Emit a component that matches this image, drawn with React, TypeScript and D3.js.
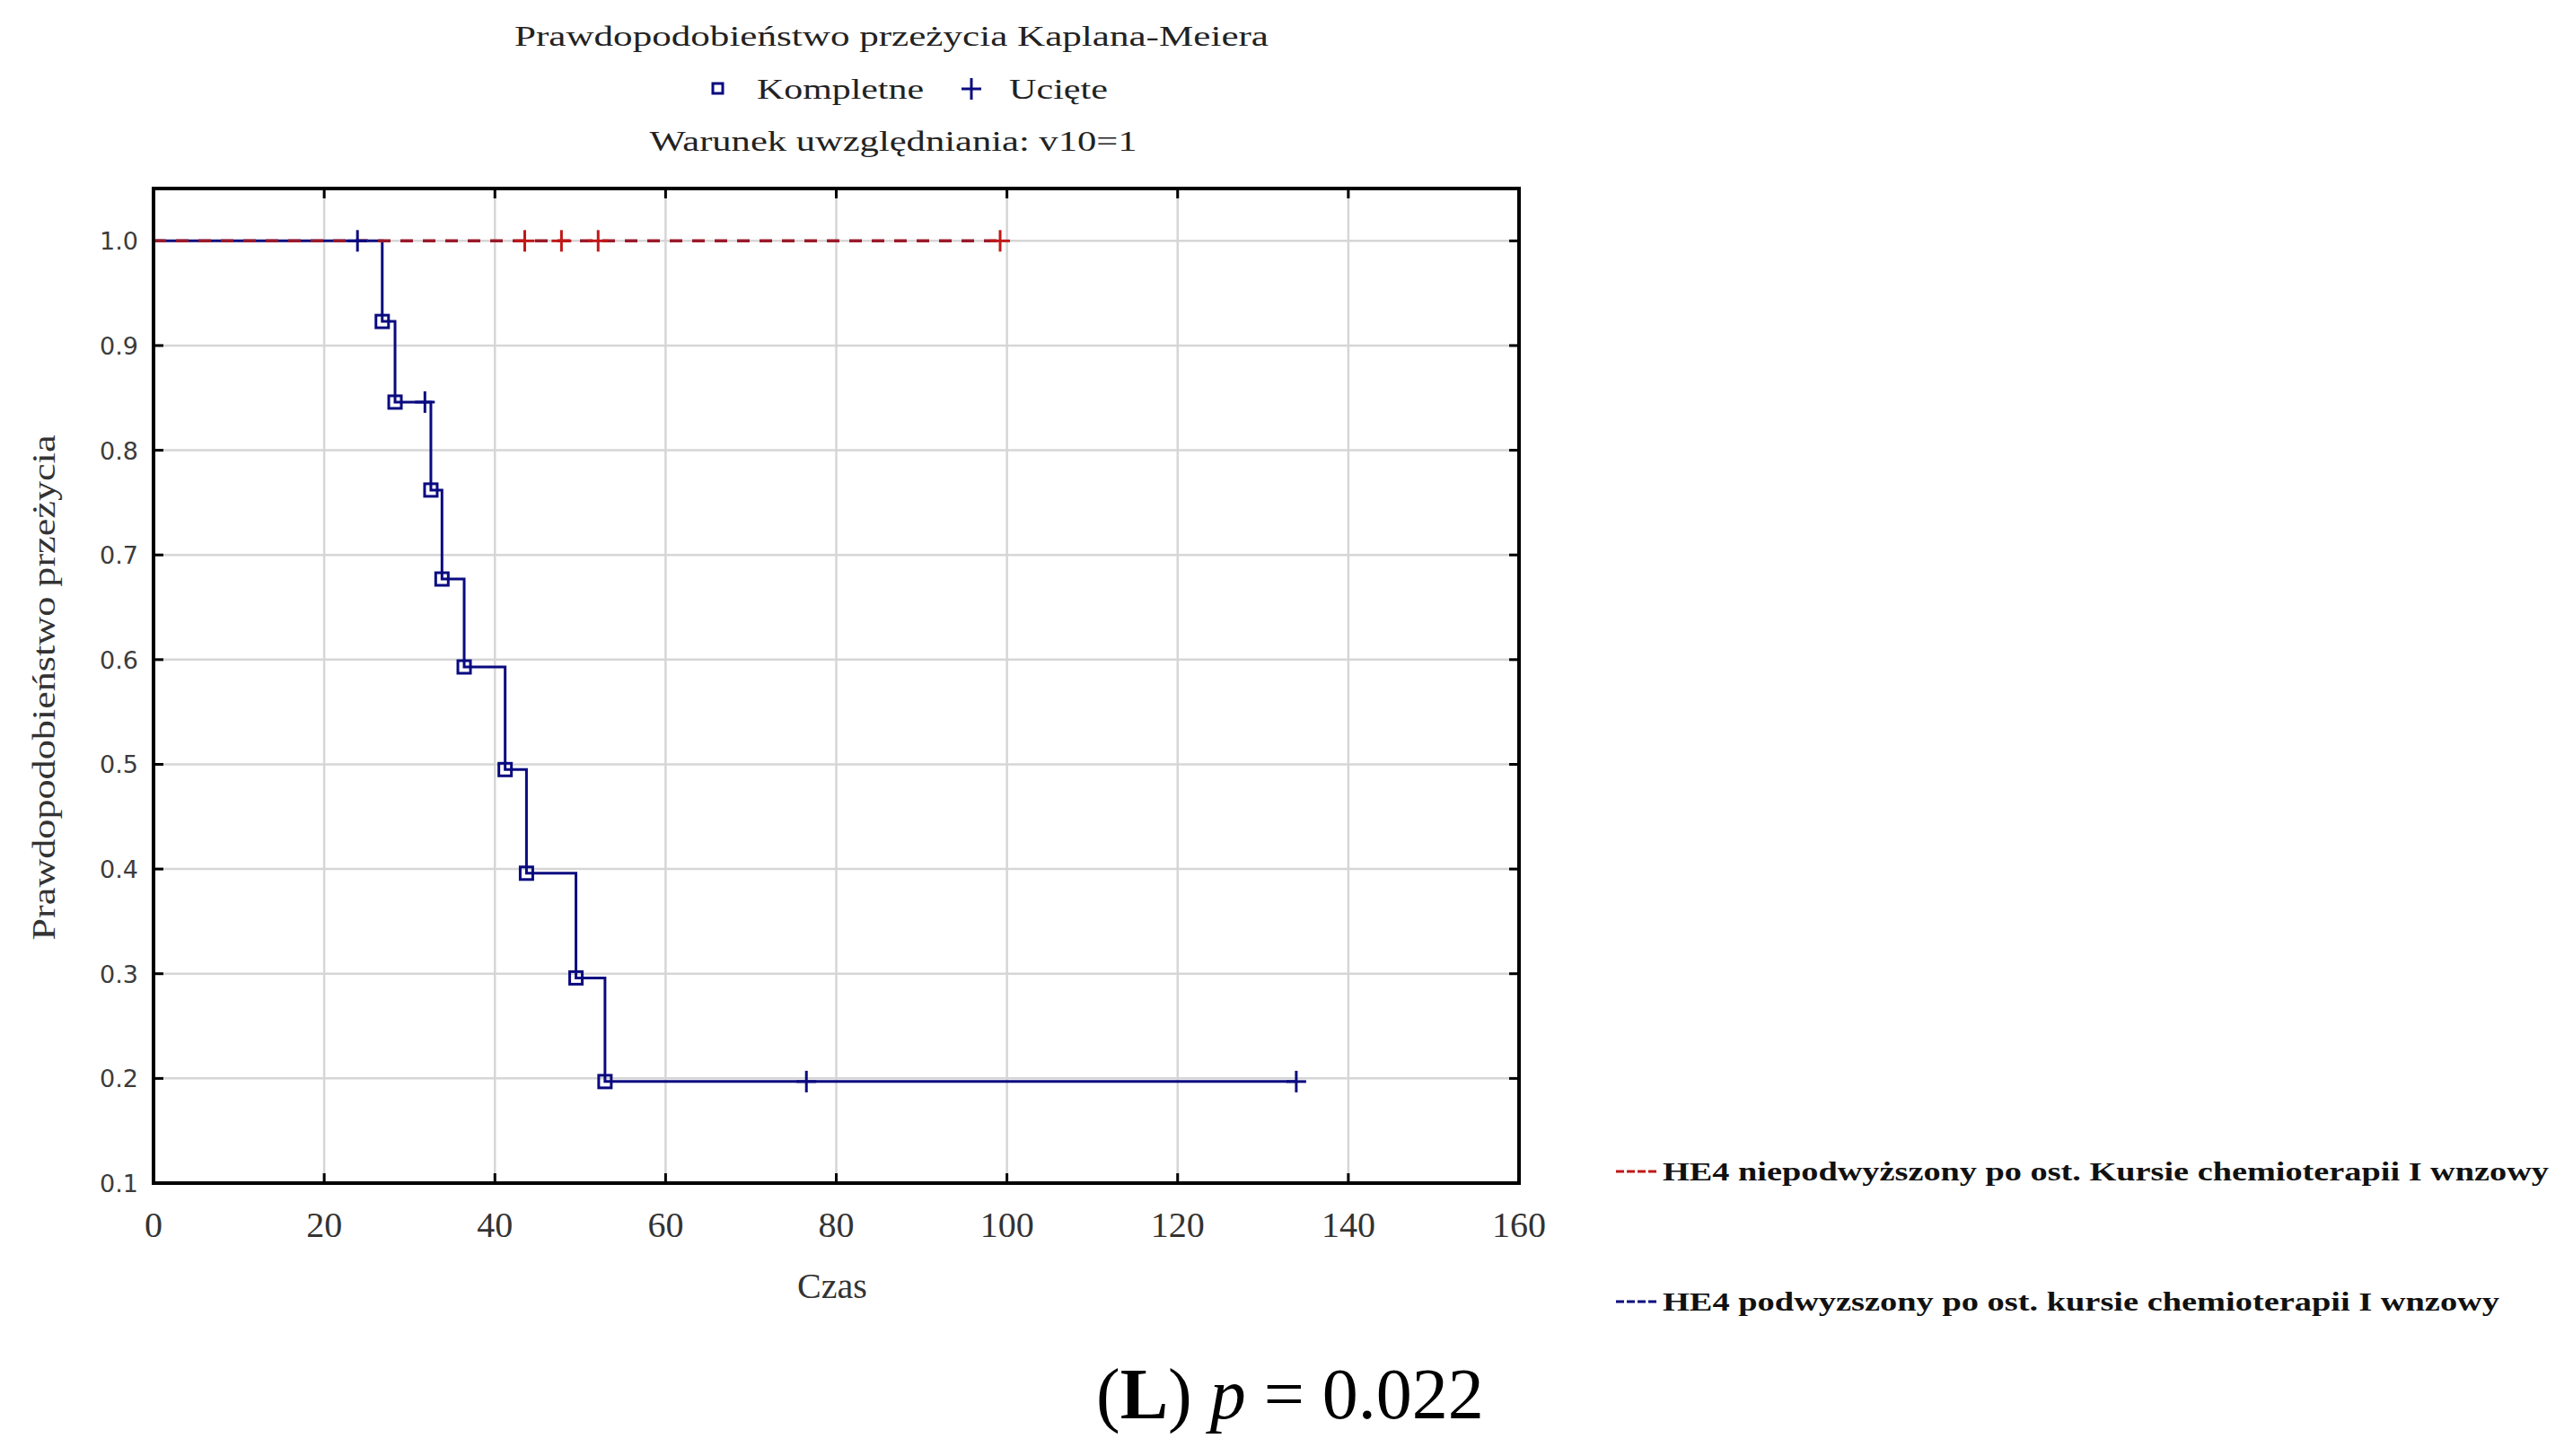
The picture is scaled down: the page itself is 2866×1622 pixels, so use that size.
import React from "react";
import * as d3 from "d3";

// ---- data ----
const xTicks = [0, 20, 40, 60, 80, 100, 120, 140, 160];
const yTicks = [0.1, 0.2, 0.3, 0.4, 0.5, 0.6, 0.7, 0.8, 0.9, 1.0];

// HE4 podwyzszony (blue): event times and survival after each event
const blueEventTimes = [26.8, 28.3, 32.5, 33.8, 36.4, 41.2, 43.7, 49.5, 52.9];
const blueEventSurv = [0.923, 0.846, 0.762, 0.677, 0.593, 0.495, 0.396, 0.296, 0.197];
const blueCensorTimes = [23.9, 31.8, 76.5, 133.9];
const blueEnd = 133.9;

// HE4 niepodwyższony (red): no events, censored only
const redCensorTimes = [43.5, 47.8, 52.1, 99.2];
const redEnd = 99.2;

const titleText = "Prawdopodobieństwo przeżycia Kaplana-Meiera";
const subText = "Warunek uwzględniania: v10=1";
const yLabel = "Prawdopodobieństwo przeżycia";
const xLabel = "Czas";
const legendRed = "HE4 niepodwyższony po ost. Kursie chemioterapii I wnzowy";
const legendBlue = "HE4 podwyzszony po ost. kursie chemioterapii I wnzowy";

const BLUE = "#0a0a80";
const RED = "#c01818";
const RED_DASH = "#9a1a2a";

export default function App() {
  const W = 2866, H = 1622;
  const L = 171, R = 1692, T = 210, B = 1318;
  const x = d3.scaleLinear().domain([0, 160]).range([L, R]);
  const y = d3.scaleLinear().domain([0.1, 1.05]).range([B, T]);

  const bluePts: [number, number][] = [[0, 1]];
  blueEventTimes.forEach((t, i) => bluePts.push([t, blueEventSurv[i]]));
  bluePts.push([blueEnd, blueEventSurv[blueEventSurv.length - 1]]);
  const stepLine = d3
    .line<[number, number]>()
    .x((d) => x(d[0]))
    .y((d) => y(d[1]))
    .curve(d3.curveStepAfter);

  const survAt = (t: number) => {
    let s = 1;
    blueEventTimes.forEach((et, i) => {
      if (et <= t) s = blueEventSurv[i];
    });
    return s;
  };

  const redPts: [number, number][] = [[0, 1], [redEnd, 1]];
  const tickLen = 11;
  const serif = "'Liberation Serif', 'DejaVu Serif', serif";

  const plus = (cx: number, cy: number, color: string, key: string) => (
    <g key={key} stroke={color} strokeWidth={3}>
      <line x1={cx} x2={cx} y1={cy - 12} y2={cy + 12} />
      <line x1={cx - 11} x2={cx + 11} y1={cy} y2={cy} />
    </g>
  );

  return (
    <svg
      width={W}
      height={H}
      style={{ position: "absolute", left: 0, top: 0, background: "#fff" }}
    >
      <rect x={0} y={0} width={W} height={H} fill="#fff" />
      {/* titles */}
      <text x={993} y={51} textAnchor="middle" fontFamily={serif} fontSize={31} fill="#222"
        textLength={840} lengthAdjust="spacingAndGlyphs">{titleText}</text>
      <rect x={794} y={93} width={11} height={11} fill="none" stroke={BLUE} strokeWidth={3} />
      <text x={843} y={110} fontFamily={serif} fontSize={31} fill="#222"
        textLength={186} lengthAdjust="spacingAndGlyphs">Kompletne</text>
      {plus(1082, 99, BLUE, "lp")}
      <text x={1124} y={110} fontFamily={serif} fontSize={31} fill="#222"
        textLength={110} lengthAdjust="spacingAndGlyphs">Ucięte</text>
      <text x={995} y={168} textAnchor="middle" fontFamily={serif} fontSize={31} fill="#222"
        textLength={543} lengthAdjust="spacingAndGlyphs">{subText}</text>

      {/* grid */}
      <g stroke="#d6d6d6" strokeWidth={2.5}>
        {xTicks.slice(1, -1).map((t) => (
          <line key={"gx" + t} x1={x(t)} x2={x(t)} y1={T} y2={B} />
        ))}
        {yTicks.slice(1).map((v) => (
          <line key={"gy" + v} x1={L} x2={R} y1={y(v)} y2={y(v)} />
        ))}
      </g>
      {/* inward ticks */}
      <g stroke="#000" strokeWidth={3}>
        {xTicks.slice(1, -1).map((t) => (
          <g key={"tx" + t}>
            <line x1={x(t)} x2={x(t)} y1={B} y2={B - tickLen} />
            <line x1={x(t)} x2={x(t)} y1={T} y2={T + tickLen} />
          </g>
        ))}
        {yTicks.slice(1).map((v) => (
          <g key={"ty" + v}>
            <line x1={L} x2={L + tickLen} y1={y(v)} y2={y(v)} />
            <line x1={R} x2={R - tickLen} y1={y(v)} y2={y(v)} />
          </g>
        ))}
      </g>

      {/* curves */}
      <path d={stepLine(bluePts) || ""} fill="none" stroke={BLUE} strokeWidth={3} />
      <path d={stepLine(redPts) || ""} fill="none" stroke={RED_DASH} strokeWidth={3.5}
        strokeDasharray="14 11" />
      {blueEventTimes.map((t, i) => (
        <rect key={"m" + i} x={x(t) - 7} y={y(blueEventSurv[i]) - 7} width={14} height={14}
          fill="none" stroke={BLUE} strokeWidth={3} />
      ))}
      {blueCensorTimes.map((t, i) => plus(x(t), y(survAt(t)), BLUE, "bc" + i))}
      {redCensorTimes.map((t, i) => plus(x(t), y(1), RED, "rc" + i))}

      {/* frame */}
      <rect x={L} y={T} width={R - L} height={B - T} fill="none" stroke="#000" strokeWidth={4} />

      {/* tick labels */}
      {yTicks.map((v) => (
        <text key={"yl" + v} x={154} y={y(v) + 10} textAnchor="end"
          fontFamily="'DejaVu Sans', sans-serif" fontSize={27} fill="#3c3c3c">
          {v.toFixed(1)}
        </text>
      ))}
      {xTicks.map((t) => (
        <text key={"xl" + t} x={x(t)} y={1378} textAnchor="middle" fontFamily={serif}
          fontSize={40} fill="#333">
          {t}
        </text>
      ))}
      <text x={927} y={1446} textAnchor="middle" fontFamily={serif} fontSize={40} fill="#333">
        {xLabel}
      </text>
      <text transform="translate(61,766) rotate(-90)" textAnchor="middle" fontFamily={serif}
        fontSize={36} fill="#333" textLength={563} lengthAdjust="spacingAndGlyphs">
        {yLabel}
      </text>

      {/* right legend */}
      <line x1={1800} x2={1846} y1={1305} y2={1305} stroke={RED} strokeWidth={3} strokeDasharray="9 3" />
      <text x={1852} y={1315} fontFamily={serif} fontWeight="bold" fontSize={30} fill="#111"
        textLength={987} lengthAdjust="spacingAndGlyphs">{legendRed}</text>
      <line x1={1800} x2={1846} y1={1450} y2={1450} stroke={BLUE} strokeWidth={3} strokeDasharray="9 3" />
      <text x={1852} y={1460} fontFamily={serif} fontWeight="bold" fontSize={30} fill="#111"
        textLength={932} lengthAdjust="spacingAndGlyphs">{legendBlue}</text>

      {/* caption */}
      <text x={1437} y={1580} textAnchor="middle" fontFamily="'Liberation Serif', serif"
        fontSize={80} fill="#000">
        (<tspan fontWeight="bold">L</tspan>) <tspan fontStyle="italic">p</tspan> = 0.022
      </text>
    </svg>
  );
}
